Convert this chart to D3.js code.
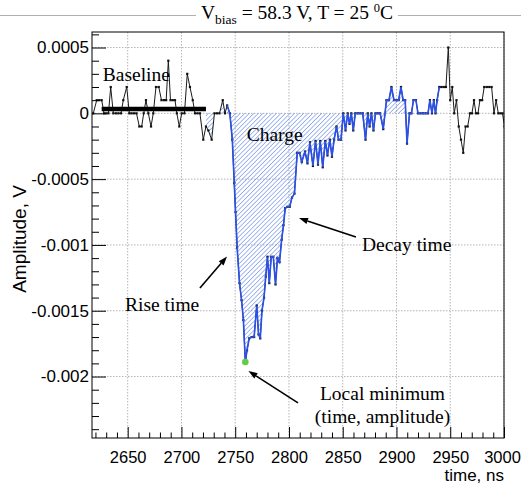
<!DOCTYPE html>
<html><head><meta charset="utf-8">
<script src="https://cdn.jsdelivr.net/npm/d3@7"></script>
<style>body{margin:0;background:#fff}svg{display:block}</style>
</head><body><svg id="c" width="521" height="489"></svg>
<script>
// ---- data ----
const timeNs = [2618.0,2621.2,2623.5,2625.8,2628.0,2630.1,2632.1,2634.2,2636.6,2639.1,2641.4,2643.8,2645.9,2649.1,2651.5,2653.6,2655.9,2658.2,2660.8,2663.0,
2664.9,2667.0,2669.2,2671.7,2673.8,2676.3,2678.9,2681.4,2683.8,2685.8,2687.8,2689.8,2691.9,2694.0,2695.7,2698.0,2700.2,2702.8,2705.4,2707.9,
2710.5,2712.6,2714.9,2717.2,2720.3,2722.8,2725.0,2728.1,2730.7,2733.1,2735.4,2738.4,2740.5,2742.5,2745.0,2747.3,2749.1,2750.3,2751.8,2754.0,
2755.9,2757.6,2759.4,2761.0,2763.0,2765.3,2767.6,2770.0,2771.7,2773.3,2774.9,2776.8,2778.4,2780.0,2781.7,2783.5,2785.4,2787.5,2789.3,2791.2,
2793.2,2794.9,2796.5,2798.5,2800.7,2802.8,2805.1,2807.7,2809.8,2811.9,2814.9,2817.2,2819.5,2822.3,2824.7,2827.0,2829.1,2831.4,2833.8,2835.8,
2838.0,2840.0,2842.0,2844.2,2846.1,2848.4,2850.5,2852.6,2854.6,2856.3,2858.0,2859.8,2861.7,2864.0,2866.3,2868.6,2871.2,2873.3,2875.0,2876.7,
2878.6,2880.5,2882.6,2884.8,2887.7,2890.7,2893.0,2895.3,2897.7,2899.9,2902.0,2904.2,2906.2,2908.1,2909.8,2912.1,2913.9,2915.8,2918.1,2920.0,
2922.3,2924.6,2927.0,2929.3,2931.1,2933.0,2934.7,2936.3,2937.8,2939.8,2941.8,2944.0,2946.0,2948.2,2950.0,2951.9,2953.7,2955.8,2957.9,2960.0,
2962.1,2964.2,2966.2,2968.3,2970.2,2972.1,2973.9,2975.8,2977.6,2979.7,2981.6,2984.0,2986.3,2988.5,2990.7,2992.7,2994.7,2996.7,2998.6,3000.5];
const amplitudeV = [0,0.0001,0.0001,0.0001,0,0,0,0.0002,0,0,0,0,0.0001,0.0002,0,0,0,0,-0.0001,-0.0001,
0,0.0001,0,-0.0001,0,0.0002,0.0002,0.0001,0.0001,0.0001,0.0004,0.0001,0.0001,0.0001,0,-0.0001,0,0,0.0003,0.0002,
0.0001,0,0,0,-0.0002,-0.0001,-0.00013,-0.0002,0,0,0,0.0001,0,0.00006,0,-0.0002,-0.00053,-0.00075,-0.00102,-0.00129,
-0.00142,-0.00157,-0.00189,-0.0018,-0.00171,-0.0017,-0.0017,-0.00146,-0.00168,-0.00171,-0.0015,-0.0014,-0.00124,-0.00109,-0.00129,-0.00109,-0.00109,-0.0013,-0.0011,-0.00113,
-0.00096,-0.00085,-0.00072,-0.00071,-0.00071,-0.00064,-0.00061,-0.0003,-0.0003,-0.00037,-0.00029,-0.00038,-0.00022,-0.0004,-0.00021,-0.00039,-0.00021,-0.00041,-0.00021,-0.00032,
-0.0002,-0.00033,-0.0002,-0.0001,-0.0002,-0.0002,0,-0.00013,0,-0.00008,0,-0.00013,0,0,0,0,-0.0002,0,-0.0001,0,
-0.00013,0,0,0,-0.00012,0.0001,0.0001,0.0002,0.0001,0.0001,0.0001,0.0002,0.0001,0.0001,-0.00023,0,0,0.0001,0.0001,0,
0,0,0,0,0.0001,0,0.0001,0,0.0001,0.0002,0.0002,0.0002,0.0002,0.0005,0.0001,0.0002,0,0.0001,-0.0001,-0.0002,
-0.0003,-0.0001,-0.0001,0,0,0.0001,0,0,0.0001,0.0001,0.0002,0.0002,0.0002,0.0002,0,0.0001,0,0,0,-0.0001];
const signalWindowNs = [2742, 2940];
const chargeWindowNs = [2722, 2909];
const baselineWindowNs = [2625.8, 2722.8];
const baselineLevelV = [0.000033];
const xTickValues = [2650,2700,2750,2800,2850,2900,2950,3000];
const xTickLabels = ["2650","2700","2750","2800","2850","2900","2950","3000"];
const yTickValues = [0.0005,0,-0.0005,-0.001,-0.0015,-0.002];
const yTickLabels = ["0.0005","0","-0.0005","-0.001","-0.0015","-0.002"];
const labelTexts = ["Baseline","Charge","Decay time","Rise time","Local minimum","(time, amplitude)"];
const labelTimes = [2626.8,2760.7,2867.9,2647.5,2887.0,2887.0];
const labelAmps  = [0.000245,-0.00021,-0.001046,-0.001502,-0.002179,-0.002353];
const labelAnchor = ["start","start","start","start","middle","middle"];
const arrowTail = [[2862.3,-0.00094],[2717.2,-0.001327],[2808.4,-0.0022]];
const arrowHead = [[2809.3,-0.000796],[2742.4,-0.001088],[2762.3,-0.001958]];

// ---- layout ----
const L=92, R=504, T=32, B=438;
const svg = d3.select("#c");
const x = d3.scaleLinear().domain([2616.8, 3000]).range([L, R]);
const y = d3.scaleLinear().domain([-0.002467, 0.000618]).range([B, T]);
const pts = timeNs.map((t,i)=>({t, v: amplitudeV[i]}));
const sans = "'Liberation Sans',Arial,Helvetica,sans-serif";
const serif = "'Liberation Serif','Times New Roman',serif";

svg.append("rect").attr("width",521).attr("height",489).attr("fill","#fff");

// title line + title
svg.append("line").attr("x1",0).attr("x2",196).attr("y1",15.5).attr("y2",15.5).attr("stroke","#b0b0b0").attr("stroke-width",1);
svg.append("line").attr("x1",398).attr("x2",521).attr("y1",15.5).attr("y2",15.5).attr("stroke","#b0b0b0").attr("stroke-width",1);
const title = svg.append("text").attr("x",297).attr("y",18.5).attr("text-anchor","middle")
  .attr("font-family",serif).attr("font-size",19.5).attr("fill","#000");
title.append("tspan").text("V");
title.append("tspan").attr("font-size",13.5).attr("dy",5).text("bias");
title.append("tspan").attr("dy",-5).text(" = 58.3 V, T = 25 ");
title.append("tspan").attr("font-size",12.5).attr("dy",-7).text("0");
title.append("tspan").attr("dy",7).text("C");

const defs = svg.append("defs");
defs.append("clipPath").attr("id","clip").append("rect").attr("x",L).attr("y",T).attr("width",R-L).attr("height",B-T);
const pat = defs.append("pattern").attr("id","hatch").attr("patternUnits","userSpaceOnUse")
  .attr("width",3.2).attr("height",3.2).attr("patternTransform","rotate(45)");
pat.append("line").attr("x1",0).attr("y1",0).attr("x2",0).attr("y2",3.2).attr("stroke","#5c80e6").attr("stroke-width",1.1);

// grid
const grid = svg.append("g").attr("stroke","#b4b4b4").attr("stroke-width",1).attr("stroke-dasharray","1.5,1.5");
grid.selectAll(".gx").data(xTickValues).join("line").attr("x1",d=>x(d)).attr("x2",d=>x(d)).attr("y1",T).attr("y2",B);
grid.selectAll(".gy").data(yTickValues).join("line").attr("y1",d=>y(d)).attr("y2",d=>y(d)).attr("x1",L).attr("x2",R);

const plot = svg.append("g").attr("clip-path","url(#clip)");

// charge hatch
const chargePts = pts.filter(p=>p.t>=chargeWindowNs[0] && p.t<=chargeWindowNs[1]);
plot.append("path").datum(chargePts)
  .attr("d", d3.area().x(p=>x(p.t)).y0(y(0)).y1(p=>y(p.v)))
  .attr("fill","url(#hatch)").attr("stroke","none");

// black waveform
plot.append("path").datum(pts).attr("d", d3.line().x(p=>x(p.t)).y(p=>y(p.v)))
  .attr("fill","none").attr("stroke","#1a1a1a").attr("stroke-width",1);

// markers
plot.selectAll(".m").data(pts).join("rect")
  .attr("x",p=>x(p.t)-1.1).attr("y",p=>y(p.v)-1.1).attr("width",2.2).attr("height",2.2).attr("fill","#111");

// blue signal part
const sigPts = pts.filter(p=>p.t>=signalWindowNs[0] && p.t<=signalWindowNs[1]);
plot.append("path").datum(sigPts).attr("d", d3.line().x(p=>x(p.t)).y(p=>y(p.v)))
  .attr("fill","none").attr("stroke","#2a50e8").attr("stroke-width",1.6);

// baseline bar
plot.append("line").attr("x1",x(baselineWindowNs[0])).attr("x2",x(baselineWindowNs[1]))
  .attr("y1",y(baselineLevelV[0])).attr("y2",y(baselineLevelV[0])).attr("stroke","#000").attr("stroke-width",4.5);

// local minimum dot
const mi = d3.minIndex(amplitudeV);
svg.append("circle").attr("cx",x(timeNs[mi])).attr("cy",y(amplitudeV[mi])).attr("r",3.3).attr("fill","#62cc45");

// axes
const yMinor = d3.range(-24, 7).map(i=>i*1e-4).filter(v=>!yTickValues.some(m=>Math.abs(m-v)<1e-9));
const xMinor = d3.range(2620, 3001, 10).filter(v=>v%50!==0);
svg.append("g").attr("transform",`translate(${L},0)`).call(d3.axisLeft(y).tickValues(yMinor).tickSize(-7).tickFormat(""))
  .call(g=>g.select(".domain").remove());
svg.append("g").attr("transform",`translate(${L},0)`)
  .call(d3.axisLeft(y).tickValues(yTickValues).tickSize(-14).tickPadding(3).tickFormat((d,i)=>yTickLabels[i]))
  .call(g=>g.select(".domain").remove())
  .call(g=>g.selectAll("text").attr("font-family",sans).attr("font-size",17).attr("fill","#000"));
svg.append("g").attr("transform",`translate(0,${B})`).call(d3.axisBottom(x).tickValues(xMinor).tickSize(-5.5).tickFormat(""))
  .call(g=>g.select(".domain").remove());
svg.append("g").attr("transform",`translate(0,${B})`)
  .call(d3.axisBottom(x).tickValues(xTickValues).tickSize(-11).tickPadding(13).tickFormat((d,i)=>xTickLabels[i]))
  .call(g=>g.select(".domain").remove())
  .call(g=>g.selectAll("text").attr("font-family",sans).attr("font-size",16.5).attr("fill","#000")
    .attr("dx",(d,i)=> i===xTickValues.length-1 ? -2 : 0));
svg.selectAll(".tick line").attr("stroke","#000");

// frame
svg.append("rect").attr("x",L).attr("y",T).attr("width",R-L).attr("height",B-T).attr("fill","none").attr("stroke","#000").attr("stroke-width",1);

// axis titles
svg.append("text").attr("x",R).attr("y",481).attr("text-anchor","end")
  .attr("font-family",sans).attr("font-size",17).text("time, ns");
svg.append("text").attr("transform","translate(26,239) rotate(-90)").attr("text-anchor","middle")
  .attr("font-family",sans).attr("font-size",19).text("Amplitude, V");

// annotations
svg.selectAll(".lab").data(labelTexts).join("text")
  .attr("x",(d,i)=>x(labelTimes[i])).attr("y",(d,i)=>y(labelAmps[i])).attr("text-anchor",(d,i)=>labelAnchor[i])
  .attr("font-family",serif).attr("font-size",19.5).attr("fill","#000").text(d=>d);

arrowTail.forEach((tl,i)=>{
  const x1=x(tl[0]), y1=y(tl[1]), x2=x(arrowHead[i][0]), y2=y(arrowHead[i][1]);
  const a=Math.atan2(y2-y1,x2-x1), len=9, w=3.2;
  const bx=x2-len*Math.cos(a), by=y2-len*Math.sin(a);
  svg.append("line").attr("x1",x1).attr("y1",y1).attr("x2",bx).attr("y2",by).attr("stroke","#000").attr("stroke-width",1.6);
  svg.append("path").attr("d",`M${x2},${y2}L${bx-w*Math.sin(a)},${by+w*Math.cos(a)}L${bx+w*Math.sin(a)},${by-w*Math.cos(a)}Z`).attr("fill","#000");
});
</script></body></html>
